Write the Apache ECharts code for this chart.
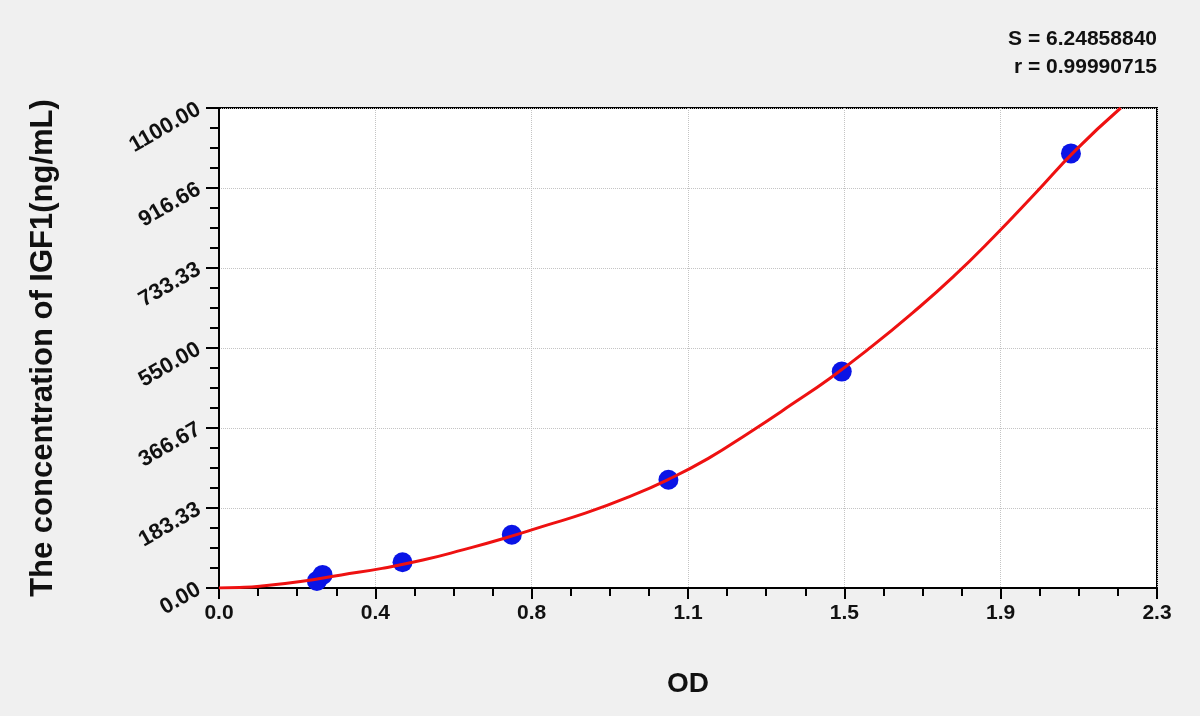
<!DOCTYPE html>
<html>
<head>
<meta charset="utf-8">
<script src="https://cdn.jsdelivr.net/npm/echarts@6/dist/echarts.min.js"></script>
<style>
  html, body { margin: 0; padding: 0; background: #f0f0f0; }
  #main-chart { width: 1200px; height: 716px; }
</style>
</head>
<body>
<div id="main-chart"></div>
<script>
// standard points (OD, concentration)
const pointOD = [0.240, 0.254, 0.450, 0.718, 1.102, 1.527, 2.089];
const pointConc = [16, 30, 59, 122, 248, 496, 996];

// fitted curve
const curveOD = [0, 0.05, 0.1, 0.2, 0.3, 0.4, 0.5, 0.6, 0.7, 0.8, 0.9, 1.0, 1.1, 1.2, 1.3, 1.4, 1.5, 1.6, 1.7, 1.8, 1.9, 2.0, 2.1, 2.211];
const curveConc = [0, 1, 4, 15, 30, 45, 64, 88, 114, 143, 172, 207, 248, 297, 356, 418, 482, 553, 630, 713, 805, 903, 1003, 1100];

const xTickLabels = ['0.0', '0.4', '0.8', '1.1', '1.5', '1.9', '2.3'];
const yTickLabels = ['0.00', '183.33', '366.67', '550.00', '733.33', '916.66', '1100.00'];

const xMax = 2.3;
const yMax = 1100;

let chartDom = document.getElementById('main-chart');
let myChart = echarts.init(chartDom);

const boldFont = 'Liberation Sans, Arial, sans-serif';

let option = {
    backgroundColor: '#f0f0f0',
    animation: false,
    grid: {
        left: 219,
        right: 43,
        top: 108,
        bottom: 128,
        show: true,
        backgroundColor: '#ffffff',
        borderColor: '#000',
        borderWidth: 2
    },
    graphic: [
        {
            type: 'text',
            right: 43,
            top: 29,
            style: { text: 'S = 6.24858840', fontSize: 21, fontWeight: 'bold', fontFamily: boldFont, fill: '#111', textAlign: 'right' }
        },
        {
            type: 'text',
            right: 43,
            top: 57,
            style: { text: 'r = 0.99990715', fontSize: 21, fontWeight: 'bold', fontFamily: boldFont, fill: '#111', textAlign: 'right' }
        }
    ],
    xAxis: {
        type: 'value',
        min: 0,
        max: xMax,
        interval: xMax / 6,
        name: 'OD',
        nameLocation: 'middle',
        nameGap: 82,
        nameTextStyle: { fontSize: 28, fontWeight: 'bold', fontFamily: boldFont, color: '#111' },
        axisLine: { show: true, lineStyle: { color: '#000', width: 2 } },
        axisTick: { show: true, length: 11, lineStyle: { color: '#000', width: 2 } },
        minorTick: { show: true, splitNumber: 4, length: 8, lineStyle: { color: '#000', width: 2 } },
        splitLine: { show: true, lineStyle: { color: '#c4c4c4', type: 'dotted', width: 1 } },
        axisLabel: {
            margin: 15,
            fontSize: 21,
            fontWeight: 'bold',
            fontFamily: boldFont,
            color: '#111',
            formatter: v => xTickLabels[Math.round(v / (xMax / 6))]
        }
    },
    yAxis: {
        type: 'value',
        min: 0,
        max: yMax,
        interval: yMax / 6,
        name: 'The concentration of IGF1(ng/mL)',
        nameLocation: 'middle',
        nameGap: 160,
        nameTextStyle: { fontSize: 31, fontWeight: 'bold', fontFamily: boldFont, color: '#111' },
        axisLine: { show: true, lineStyle: { color: '#000', width: 2 } },
        axisTick: { show: true, length: 13, lineStyle: { color: '#000', width: 2 } },
        minorTick: { show: true, splitNumber: 4, length: 9, lineStyle: { color: '#000', width: 2 } },
        splitLine: { show: true, lineStyle: { color: '#c4c4c4', type: 'dotted', width: 1 } },
        axisLabel: {
            rotate: 30,
            margin: 20,
            fontSize: 22,
            fontWeight: 'bold',
            fontFamily: boldFont,
            color: '#111',
            formatter: v => yTickLabels[Math.round(v / (yMax / 6))]
        }
    },
    series: [
        {
            type: 'line',
            data: curveOD.map((x, i) => [x, curveConc[i]]),
            smooth: 0.5,
            showSymbol: false,
            clip: true,
            lineStyle: { color: '#ee1111', width: 3 },
            z: 3
        },
        {
            type: 'scatter',
            data: pointOD.map((x, i) => [x, pointConc[i]]),
            symbolSize: 20,
            itemStyle: { color: '#0a14e6', opacity: 1 },
            z: 2
        }
    ]
};

myChart.setOption(option);
</script>
</body>
</html>
